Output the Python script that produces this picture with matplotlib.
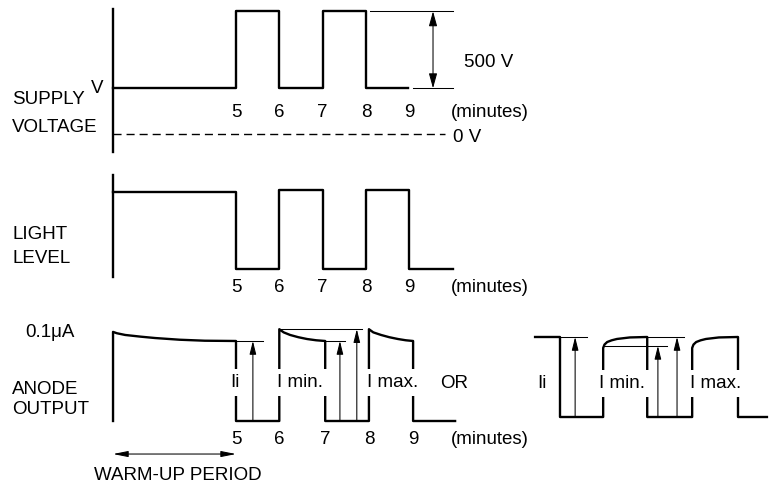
import matplotlib

matplotlib.use("Agg")
import matplotlib.pyplot as plt  # noqa: E402
from matplotlib.transforms import blended_transform_factory  # noqa: E402

W, H = 771, 484
FONT = ["Liberation Sans", "DejaVu Sans"]
FS = 13.5
LW = 1.7      # waveform weight
THIN = 0.75   # reference lines / arrows

# ---- data: time in minutes ----
T_START = 2.16
EDGES = [5, 6, 7, 8, 9]

# supply voltage (V)
V_LEVEL = 300
V_STEP = 500
SUPPLY_T = [T_START, 5, 6, 7, 8, 8.97]
SUPPLY_V = [V_LEVEL, V_LEVEL + V_STEP, V_LEVEL, V_LEVEL + V_STEP, V_LEVEL, V_LEVEL]
SUPPLY_AXIS = (-114, 815)
ZERO_LINE_END = 9.83

# light level (relative)
LIGHT_T = [T_START, 5, 6, 7, 8, 9, 10.01]
LIGHT_L = [0.975, 0, 1, 0, 1, 0, 0]
LIGHT_AXIS = (-0.10, 1.19)

# anode output (uA)
ANODE_EDGES = [5.0, 6.0, 7.06, 8.07, 9.09]
ANODE_END = 10.06
WARM_T = [T_START, 2.25, 2.44, 2.8, 3.13, 3.7, 4.28, 5.0]
WARM_I = [0.099, 0.0975, 0.0956, 0.0937, 0.0922, 0.0903, 0.0892, 0.0889]
P1_T = [6.0, 6.1, 6.25, 6.44, 6.64, 6.85, 7.06]
P2_T = [8.07, 8.17, 8.35, 8.54, 8.74, 8.92, 9.09]
PULSE_I = [0.102, 0.0985, 0.0956, 0.0931, 0.0911, 0.0897, 0.0889]
I_I, I_MIN, I_MAX = 0.0889, 0.0889, 0.102

# alternative ("OR") anode trace, own time base
OR_START, OR_END = 4.44, 9.65
OR_EDGES = [5.0, 5.97, 6.96, 7.97, 9.0]
OR_HIGH = 0.0889
OR_C1_T = [5.97, 6.0, 6.06, 6.16, 6.28, 6.57, 6.96]
OR_C2_T = [7.97, 8.0, 8.06, 8.16, 8.28, 8.57, 9.0]
OR_C_I = [0.0767, 0.0805, 0.0833, 0.0852, 0.0867, 0.0884, 0.0889]
OR_I_I, OR_I_MIN, OR_I_MAX = 0.0889, 0.079, 0.0889


def panel(fig, x5, ppm, y0, ppu):
    """Full-figure transparent axes; x5/y0 are pixel spots of t=5 and value 0."""
    ax = fig.add_axes([0, 0, 1, 1])
    ax.set_xlim(5 - x5 / ppm, 5 + (W - x5) / ppm)
    ax.set_ylim((y0 - H) / ppu, y0 / ppu)
    ax.set_axis_off()
    ax.patch.set_alpha(0)
    return ax


def fig_y(py):
    return 1 - py / H


def arrow(ax, x0, y0, x1, y1, style="-|>,head_length=0.8,head_width=0.2"):
    ax.annotate("", xy=(x1, y1), xytext=(x0, y0),
                arrowprops=dict(arrowstyle=style, color="black", lw=THIN,
                                shrinkA=0, shrinkB=0))


def label(ax, x, py, s, ha="left", box=False):
    tr = blended_transform_factory(ax.transData, ax.figure.transFigure)
    bbox = dict(facecolor="white", edgecolor="none", boxstyle="square,pad=0.25") if box else None
    ax.text(x, fig_y(py), s, transform=tr, ha=ha, va="baseline",
            fontsize=FS, family=FONT, bbox=bbox, zorder=5)


fig = plt.figure(figsize=(W / 100, H / 100), dpi=100)

# ---------------- supply voltage ----------------
ax = panel(fig, 236, 43.3, 134.5, 0.154)
ax.plot([T_START, T_START], SUPPLY_AXIS, color="black", lw=LW)
ax.step(SUPPLY_T, SUPPLY_V, where="post", color="black", lw=LW)
ax.plot([T_START, ZERO_LINE_END], [0, 0], color="black", lw=1.0,
        linestyle=(0, (5.8, 3.6)))
ax.plot([8.1, 10.01], [V_LEVEL + V_STEP] * 2, color="black", lw=THIN)
ax.plot([9.09, 10.01], [V_LEVEL] * 2, color="black", lw=THIN)
arrow(ax, 9.55, V_LEVEL, 9.55, V_LEVEL + V_STEP,
      "<|-|>,head_length=0.9,head_width=0.25")
for e in EDGES:
    label(ax, e, 117, str(e), ha="center")
label(ax, 9.96, 117, "(minutes)")

# ---------------- light level ----------------
ax = panel(fig, 236, 43.3, 269, 79)
ax.plot([T_START, T_START], LIGHT_AXIS, color="black", lw=LW)
ax.step(LIGHT_T, LIGHT_L, where="post", color="black", lw=LW)
for e in EDGES:
    label(ax, e, 292, str(e), ha="center")
label(ax, 9.96, 292, "(minutes)")

# ---------------- anode output ----------------
ax = panel(fig, 236, 43.3, 421, 900)
e = ANODE_EDGES
at = [T_START] + WARM_T + [e[0], e[1]] + P1_T + [e[2], e[3]] + P2_T + [e[4], ANODE_END]
ai = [0] + WARM_I + [0, 0] + PULSE_I + [0, 0] + PULSE_I + [0, 0]
ax.plot(at, ai, color="black", lw=LW)
ax.plot([e[0], 5.62], [I_I] * 2, color="black", lw=THIN)
ax.plot([e[2], 7.52], [I_MIN] * 2, color="black", lw=THIN)
ax.plot([e[1], 7.91], [I_MAX] * 2, color="black", lw=THIN)
arrow(ax, 5.39, 0, 5.39, I_I)
arrow(ax, 7.40, 0, 7.40, I_MIN)
arrow(ax, 7.79, 0, 7.79, I_MAX)
label(ax, 4.86, 387, "Ii", box=True)
label(ax, 5.95, 387, "I min.", box=True)
label(ax, 8.03, 387, "I max.", box=True)
for x in e:
    label(ax, x, 444, f"{x:.0f}", ha="center")
label(ax, 9.96, 444, "(minutes)")
arrow(ax, T_START, -0.0367, e[0], -0.0367,
      "<|-|>,head_length=0.9,head_width=0.18")
label(ax, (T_START + e[0]) / 2 + 0.07, 480, "WARM-UP PERIOD", ha="center")
label(ax, 9.71, 388, "OR")

# ---------------- alternative anode output ----------------
ax = panel(fig, 560, 44.5, 417, 900)
oe = OR_EDGES
ot = [OR_START, oe[0], oe[0], oe[1]] + OR_C1_T + [oe[2], oe[3]] + OR_C2_T + [oe[4], OR_END]
oi = [OR_HIGH, OR_HIGH, 0, 0] + OR_C_I + [0, 0] + OR_C_I + [0, 0]
ax.plot(ot, oi, color="black", lw=LW)
ax.plot([oe[0], 5.61], [OR_I_I] * 2, color="black", lw=THIN)
ax.plot([oe[1], 7.40], [OR_I_MIN] * 2, color="black", lw=THIN)
ax.plot([oe[2], 7.79], [OR_I_MAX] * 2, color="black", lw=THIN)
arrow(ax, 5.34, 0, 5.34, OR_I_I)
arrow(ax, 7.20, 0, 7.20, OR_I_MIN)
arrow(ax, 7.63, 0, 7.63, OR_I_MAX)
label(ax, 4.48, 388, "Ii", box=True)
label(ax, 5.88, 388, "I min.", box=True)
label(ax, 7.92, 388, "I max.", box=True)


# ---------------- fixed captions ----------------
def caption(px, py, s, ha="left"):
    fig.text(px / W, fig_y(py), s, ha=ha, va="baseline", fontsize=FS, family=FONT)


caption(103, 93, "V", ha="right")
caption(12, 104, "SUPPLY")
caption(12, 132, "VOLTAGE")
caption(453, 142, "0 V")
caption(464, 67, "500 V")
caption(12, 239, "LIGHT")
caption(12, 263, "LEVEL")
caption(25, 337, "0.1\u03bcA")
caption(12, 394, "ANODE")
caption(12, 414, "OUTPUT")

fig.savefig("out.png", dpi=100)
